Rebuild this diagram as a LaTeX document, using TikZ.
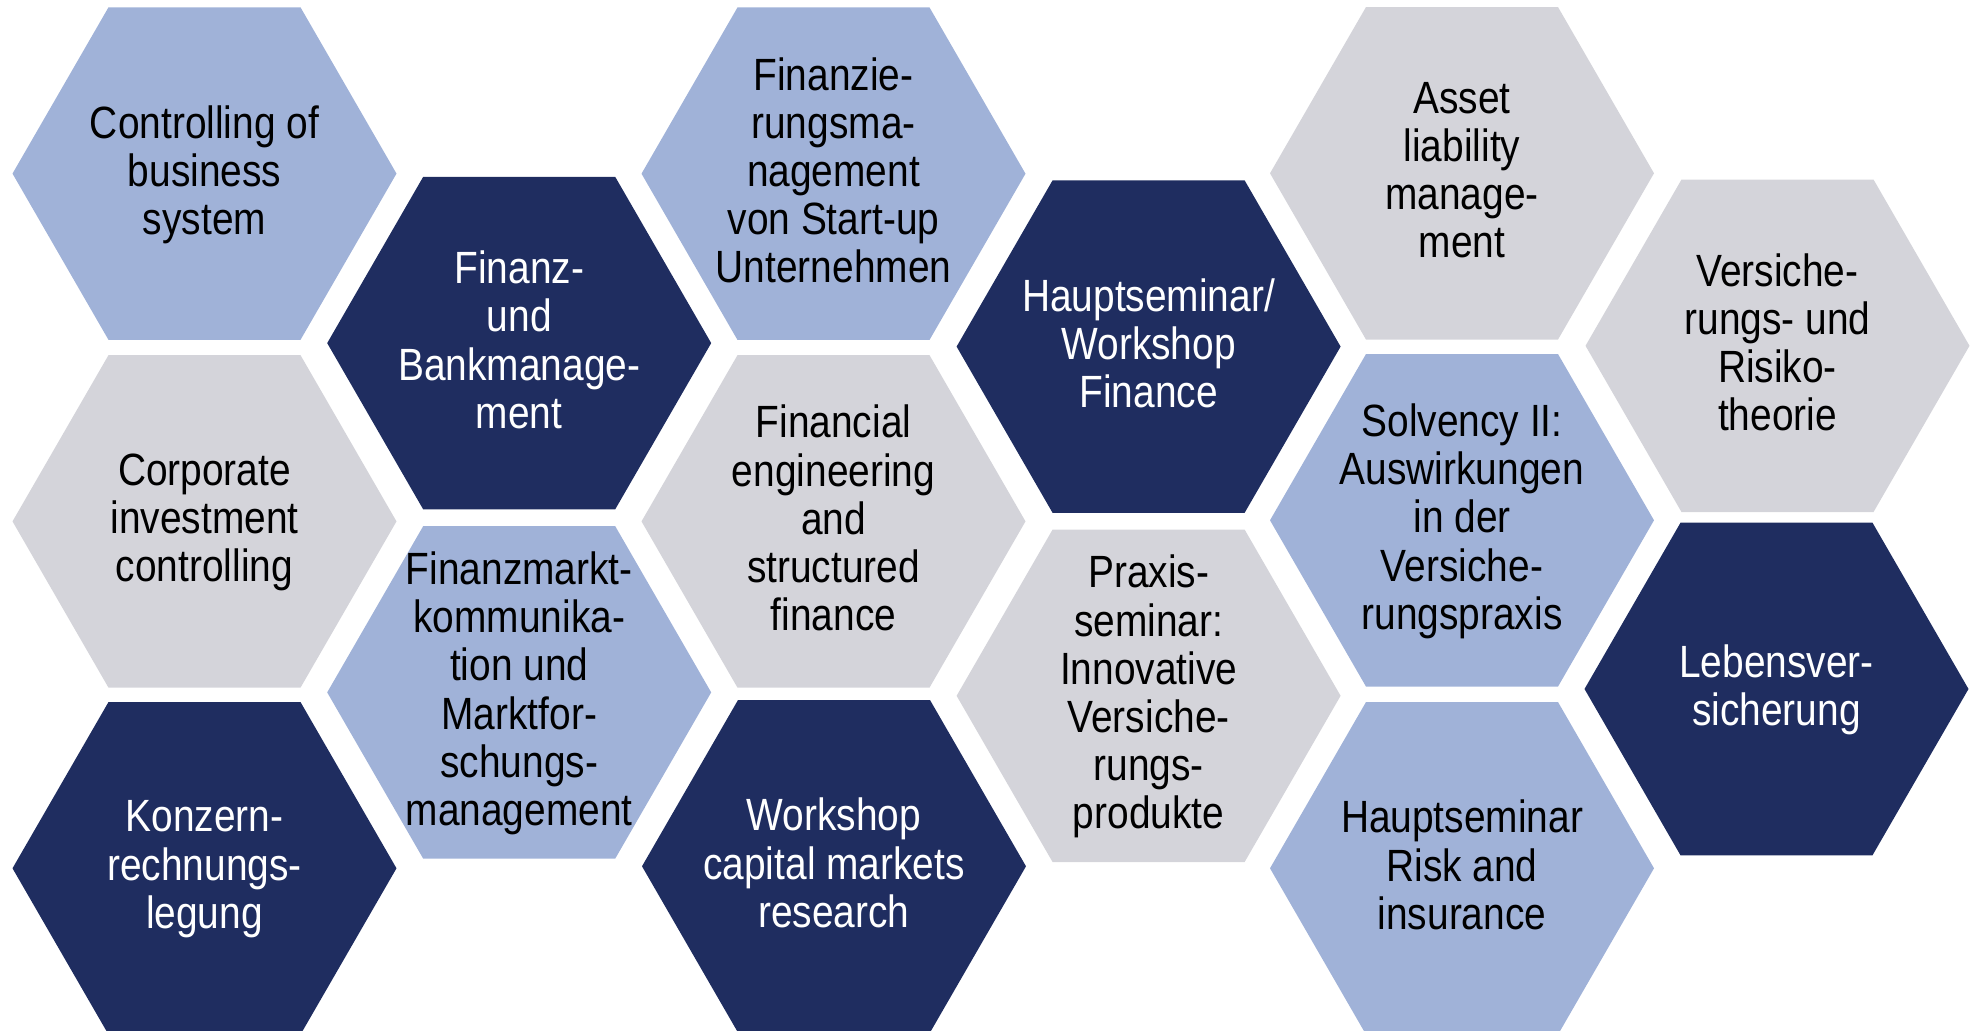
\documentclass[tikz,border=0pt]{standalone}
\usepackage{fontspec}
\setmainfont{Liberation Sans}[FakeStretch=0.86]
\usetikzlibrary{shapes.geometric}
\definecolor{lblue}{RGB}{160,178,216}
\definecolor{navy}{RGB}{31,45,96}
\definecolor{lgray}{RGB}{212,212,218}
\begin{document}
\begin{tikzpicture}[x=0.5pt,y=-0.5pt,
  hexa/.style={regular polygon, regular polygon sides=6, minimum size=192pt, inner sep=0pt, outer sep=0pt, draw=none},
  hexblue/.style={hexa, fill=lblue},
  hexnavy/.style={hexa, fill=navy},
  hexgray/.style={hexa, fill=lgray},
  hlabel/.style={align=center, inner sep=0pt, yshift=-0.5pt, font=\fontsize{22.6}{24.1}\selectfont,
    execute at begin node=\rule{0pt}{17pt},
    execute at end node=\rule[-4.5pt]{0pt}{4.5pt}},
  dark/.style={hlabel, text=black},
  light/.style={hlabel, text=white}]
\useasboundingbox (0,0) rectangle (1972,1031);

% column 1
\node[hexblue] (h1) at (204.5,173.6) {};
\node[dark] (t1) at (h1.center) {Controlling of\\business\\system};
\node[hexgray] (h7) at (204.5,521.4) {};
\node[dark] (t7) at (h7.center) {Corporate\\investment\\controlling};
\node[hexnavy] (h13) at (204.5,868.3) {};
\node[light] (t13) at (h13.center) {Konzern-\\rechnungs-\\legung};

% column 2
\node[hexnavy] (h2) at (519.2,343.1) {};
\node[light] (t2) at (h2.center) {Finanz-\\und\\Bankmanage-\\ment};
\node[hexblue] (h8) at (519.2,692.4) {};
\node[dark] (t8) at (h8.center) {Finanzmarkt-\\kommunika-\\tion und\\Marktfor-\\schungs-\\management};

% column 3
\node[hexblue] (h3) at (833.5,173.7) {};
\node[dark] (t3) at (h3.center) {Finanzie-\\rungsma-\\nagement\\von Start-up\\Unternehmen};
\node[hexgray] (h9) at (833.5,521.4) {};
\node[dark] (t9) at (h9.center) {Financial\\engineering\\and\\structured\\finance};
\node[hexnavy] (h14) at (834,866.3) {};
\node[light] (t14) at (h14.center) {Workshop\\capital markets\\research};

% column 4
\node[hexnavy] (h4) at (1148.6,346.6) {};
\node[light] (t4) at (h4.center) {Hauptseminar/\\Workshop\\Finance};
\node[hexgray] (h10) at (1148.6,695.8) {};
\node[dark] (t10) at (h10.center) {Praxis-\\seminar:\\Innovative\\Versiche-\\rungs-\\produkte};

% column 5
\node[hexgray] (h5) at (1462,173.3) {};
\node[dark] (t5) at (h5.center) {Asset\\liability\\manage-\\ment};
\node[hexblue] (h11) at (1462,520.3) {};
\node[dark] (t11) at (h11.center) {Solvency II:\\Auswirkungen\\in der\\Versiche-\\rungspraxis};
\node[hexblue] (h15) at (1462,868.3) {};
\node[dark] (t15) at (h15.center) {Hauptseminar\\Risk and\\insurance};

% column 6
\node[hexgray] (h6) at (1777.5,345.8) {};
\node[dark] (t6) at (h6.center) {Versiche-\\rungs- und\\Risiko-\\theorie};
\node[hexnavy] (h12) at (1776.5,689) {};
\node[light] (t12) at (h12.center) {Lebensver-\\sicherung};
\end{tikzpicture}
\end{document}
